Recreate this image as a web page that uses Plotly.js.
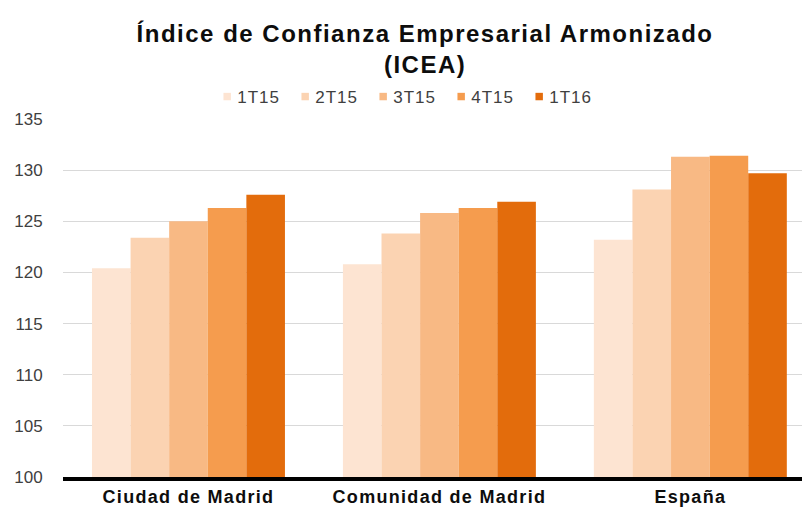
<!DOCTYPE html>
<html>
<head>
<meta charset="utf-8">
<script src="https://cdn.plot.ly/plotly-3.0.1.min.js"></script>
<style>
html, body { margin: 0; padding: 0; background: #fff; }
#chart { width: 802px; height: 508px; }
#chart .gtitle { letter-spacing: 1.5px; }
#chart .xtick text { letter-spacing: 1.3px; }
#chart .legendtext { letter-spacing: 1px; }
#chart .legend .scrollbox { clip-path: none !important; }
#chart .legendpoints path { transform: translate(30px, 0px) scale(0.62); }
</style>
</head>
<body>
<div id="chart"></div>
<script>
var categories = ["Ciudad de Madrid", "Comunidad de Madrid", "España"];
var seriesNames = ["1T15", "2T15", "3T15", "4T15", "1T16"];
var s1T15 = [120.4, 120.8, 123.2];
var s2T15 = [123.4, 123.8, 128.1];
var s3T15 = [125.0, 125.8, 131.3];
var s4T15 = [126.3, 126.3, 131.4];
var s1T16 = [127.6, 126.9, 129.7];
var seriesValues = [s1T15, s2T15, s3T15, s4T15, s1T16];
var colors = ["#FDE4D2", "#FBD3B2", "#F8B984", "#F59C4E", "#E36C0C"];
var yTicks = [100, 105, 110, 115, 120, 125, 130, 135];

var traces = seriesNames.map(function (name, i) {
  return {
    type: "bar",
    name: name,
    x: categories,
    y: seriesValues[i],
    marker: { color: colors[i], line: { width: 0 } },
    hoverinfo: "x+y+name"
  };
});

var layout = {
  width: 802,
  height: 508,
  paper_bgcolor: "#fff",
  plot_bgcolor: "#fff",
  margin: { l: 63, r: 0, t: 119, b: 31, pad: 0 },
  barmode: "group",
  bargap: 0.231,
  bargroupgap: 0,
  title: {
    text: "Índice de Confianza Empresarial Armonizado<br>(ICEA)",
    font: { family: "Liberation Sans, Arial, sans-serif", size: 24, color: "#0d0d0d", weight: "bold" },
    x: 0.53,
    xref: "container",
    xanchor: "center",
    y: 0.917,
    yref: "container",
    yanchor: "top"
  },
  showlegend: true,
  legend: {
    orientation: "h",
    x: 0.489,
    xref: "container",
    xanchor: "center",
    y: 1 - 97 / 508,
    yref: "container",
    yanchor: "middle",
    entrywidth: 33,
    entrywidthmode: "pixels",
    font: { family: "Liberation Sans, Arial, sans-serif", size: 17, color: "#404040" },
    bgcolor: "rgba(0,0,0,0)",
    traceorder: "normal"
  },
  xaxis: {
    type: "category",
    range: [-0.5, 2.445],
    showgrid: false,
    showline: true,
    linecolor: "#000",
    linewidth: 4,
    ticks: "",
    tickfont: { family: "Liberation Sans, Arial, sans-serif", size: 18, color: "#0d0d0d", weight: "bold" },
    fixedrange: true
  },
  yaxis: {
    range: [100, 135],
    tickvals: yTicks,
    ticktext: yTicks.map(String),
    showgrid: true,
    gridcolor: "#D9D9D9",
    gridwidth: 1,
    zeroline: false,
    showline: false,
    ticks: "outside",
    ticklen: 16,
    tickcolor: "rgba(0,0,0,0)",
    tickfont: { family: "Liberation Sans, Arial, sans-serif", size: 17, color: "#404040" },
    fixedrange: true
  }
};

Plotly.newPlot("chart", traces, layout, { displayModeBar: false, staticPlot: true });
</script>
</body>
</html>
